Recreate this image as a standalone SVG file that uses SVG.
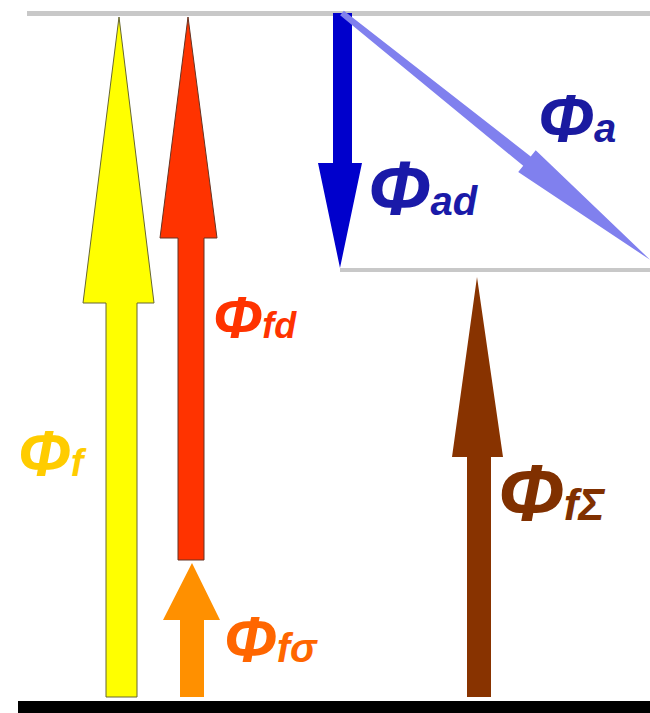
<svg xmlns="http://www.w3.org/2000/svg" width="650" height="713" viewBox="0 0 650 713">
<style>
.lbl{font-family:"Liberation Sans",Arial,sans-serif;font-weight:bold;font-style:italic}
.line{fill:#c8c8c8}
.arr{stroke-width:1}
</style>
<rect width="650" height="713" fill="#ffffff"/>
<g id="lines">
<rect class="line" x="27" y="11" width="623" height="5"/>
<rect class="line" x="340" y="268" width="310" height="4"/>
<rect x="18" y="701" width="632" height="12" fill="#000000"/>
</g>
<g id="connectors">
<polygon id="phi-f" class="arr" fill="#ffff00" stroke="#666633" stroke-width="0.8" points="119,17 154,303 137,303 137,697 106,697 106,303 83,303"/>
<polygon id="phi-fd" class="arr" fill="#ff3300" stroke="#663322" stroke-width="0.8" points="188,17 217,238 204,238 204,560 178,560 178,238 160,238"/>
<polygon id="phi-fsigma" fill="#ff9000" points="192,563 220,620 204,620 204,697 180,697 180,620 163,620"/>
<polygon id="phi-fSigma" fill="#883300" points="477,277 503,457 491,457 491,697 467,697 467,457 452,457"/>
<polygon id="phi-ad" fill="#0000cc" points="333,13 352,13 352,163 362,163 340,268 318,163 333,163"/>
<g transform="translate(342,13) rotate(38.7)">
<polygon id="phi-a" fill="#8080ee" points="0,-3 237,-6 237,-14 395,0 237,14 237,6 0,3"/>
</g>
</g>
<g id="label-fd"><text class="lbl" x="213" y="338" fill="#ff3300"><tspan font-size="60">Φ</tspan><tspan font-size="36">fd</tspan></text></g>
<g id="label-f"><text class="lbl" x="18" y="476" fill="#ffcc00"><tspan font-size="64">Φ</tspan><tspan font-size="38">f</tspan></text></g>
<g id="label-fsigma"><text class="lbl" x="224" y="662" fill="#ff6600"><tspan font-size="64">Φ</tspan><tspan font-size="40">fσ</tspan></text></g>
<g id="label-fSigma"><text class="lbl" x="498" y="520" fill="#803000"><tspan font-size="80">Φ</tspan><tspan font-size="44">fΣ</tspan></text></g>
<g id="label-ad"><text class="lbl" x="368" y="215" fill="#1a1aa8"><tspan font-size="76">Φ</tspan><tspan font-size="40">ad</tspan></text></g>
<g id="label-a"><text class="lbl" x="538" y="142" fill="#1a1aa0"><tspan font-size="68">Φ</tspan><tspan font-size="40">a</tspan></text></g>
</svg>
